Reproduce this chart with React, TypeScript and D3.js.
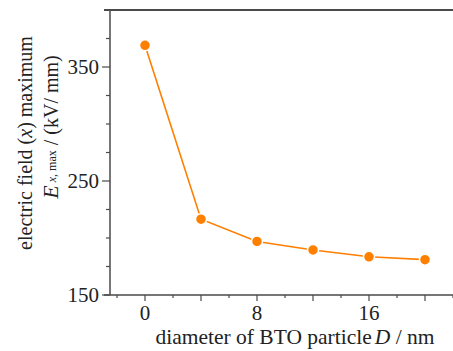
import React, { useEffect, useRef } from "react";
import * as d3 from "d3";

// particle diameter D (nm) and max electric field (kV/mm)
const diameters = [0, 4, 8, 12, 16, 20];
const fieldMax = [369, 216.5, 197, 189.5, 183.5, 181];
const xTickLabels = [0, 8, 16];
const yTickLabels = [150, 250, 350];

const App = () => {
  const svgRef = useRef<SVGSVGElement | null>(null);

  useEffect(() => {
    if (!svgRef.current) return;

    const width = 453;
    const height = 351;
    const left = 110;
    const top = 10;
    const bottom = 295;
    const axisColor = "#4a4a4a";
    const orange = "#ff7f00";
    const font = "'Liberation Serif', 'Times New Roman', serif";

    const svg = d3
      .select(svgRef.current)
      .attr("width", width)
      .attr("height", height)
      .style("background", "#fff");
    svg.selectAll("*").remove();

    const x = d3.scaleLinear().domain([-2.5, 22.5]).range([left, left + 350]);
    const y = d3.scaleLinear().domain([150, 400]).range([bottom, top]);

    // frame: left, bottom and top lines
    svg
      .append("line")
      .attr("x1", left)
      .attr("x2", left)
      .attr("y1", top)
      .attr("y2", bottom)
      .attr("stroke", axisColor)
      .attr("stroke-width", 1.5);
    svg
      .append("line")
      .attr("x1", left - 6)
      .attr("x2", width)
      .attr("y1", bottom)
      .attr("y2", bottom)
      .attr("stroke", axisColor)
      .attr("stroke-width", 1.5);
    svg
      .append("line")
      .attr("x1", left - 6)
      .attr("x2", width)
      .attr("y1", top)
      .attr("y2", top)
      .attr("stroke", axisColor)
      .attr("stroke-width", 2);

    // y ticks
    const yMinor = d3.range(175, 400, 25).filter((v) => !yTickLabels.includes(v));
    svg
      .selectAll(".ymin")
      .data(yMinor)
      .enter()
      .append("line")
      .attr("x1", left - 4)
      .attr("x2", left)
      .attr("y1", (d) => y(d))
      .attr("y2", (d) => y(d))
      .attr("stroke", axisColor)
      .attr("stroke-width", 1.2);
    svg
      .selectAll(".ymaj")
      .data(yTickLabels)
      .enter()
      .append("line")
      .attr("x1", left - 8)
      .attr("x2", left)
      .attr("y1", (d) => y(d))
      .attr("y2", (d) => y(d))
      .attr("stroke", axisColor)
      .attr("stroke-width", 1.2);
    svg
      .selectAll(".ylab")
      .data(yTickLabels)
      .enter()
      .append("text")
      .attr("x", left - 11)
      .attr("y", (d) => y(d) + 7)
      .attr("text-anchor", "end")
      .style("font-family", font)
      .style("font-size", "21px")
      .attr("fill", "#222")
      .text((d) => d);

    // x ticks
    const xMinor = d3.range(-2, 23, 4);
    const xMajor = d3.range(0, 23, 4);
    svg
      .selectAll(".xmin")
      .data(xMinor)
      .enter()
      .append("line")
      .attr("x1", (d) => x(d))
      .attr("x2", (d) => x(d))
      .attr("y1", bottom)
      .attr("y2", bottom + 3)
      .attr("stroke", axisColor)
      .attr("stroke-width", 1.2);
    svg
      .selectAll(".xmaj")
      .data(xMajor)
      .enter()
      .append("line")
      .attr("x1", (d) => x(d))
      .attr("x2", (d) => x(d))
      .attr("y1", bottom)
      .attr("y2", bottom + 6)
      .attr("stroke", axisColor)
      .attr("stroke-width", 1.2);
    svg
      .selectAll(".xlab")
      .data(xTickLabels)
      .enter()
      .append("text")
      .attr("x", (d) => x(d))
      .attr("y", 320)
      .attr("text-anchor", "middle")
      .style("font-family", font)
      .style("font-size", "21px")
      .attr("fill", "#222")
      .text((d) => d);

    // data line and markers
    const data = diameters.map((d, i) => ({ d, v: fieldMax[i] }));
    const line = d3
      .line<{ d: number; v: number }>()
      .x((p) => x(p.d))
      .y((p) => y(p.v));
    svg
      .append("path")
      .datum(data)
      .attr("fill", "none")
      .attr("stroke", orange)
      .attr("stroke-width", 1.6)
      .attr("d", line);
    svg
      .selectAll(".pt")
      .data(data)
      .enter()
      .append("circle")
      .attr("cx", (p) => x(p.d))
      .attr("cy", (p) => y(p.v))
      .attr("r", 5.5)
      .attr("fill", orange)
      .attr("stroke", "#fff")
      .attr("stroke-width", 1.5);

    // x axis title
    const xt = svg
      .append("text")
      .attr("x", 295)
      .attr("y", 344)
      .attr("text-anchor", "middle")
      .style("font-family", font)
      .style("font-size", "21.5px")
      .attr("fill", "#222");
    xt.append("tspan").text("diameter of BTO particle");
    xt.append("tspan").attr("dx", 3).style("font-style", "italic").text("D");
    xt.append("tspan").text(" / nm");

    // y axis title, two lines
    const yt1 = svg
      .append("text")
      .attr("transform", "translate(32,143) rotate(-90)")
      .attr("text-anchor", "middle")
      .style("font-family", font)
      .style("font-size", "20px")
      .attr("fill", "#222");
    yt1.append("tspan").text("electric field (");
    yt1.append("tspan").style("font-style", "italic").text("x");
    yt1.append("tspan").text(") maximum");

    const yt2 = svg
      .append("text")
      .attr("transform", "translate(58,127) rotate(-90)")
      .attr("text-anchor", "middle")
      .style("font-family", font)
      .style("font-size", "20px")
      .attr("fill", "#222");
    yt2.append("tspan").style("font-style", "italic").style("font-size", "22px").text("E");
    yt2
      .append("tspan")
      .style("font-size", "12px")
      .attr("dx", 3)
      .attr("dy", -2)
      .html("<tspan font-style='italic'>x</tspan>, max");
    yt2.append("tspan").attr("dy", 2).attr("dx", 5).text("/ (kV/ mm)");
  }, []);

  return (
    <svg
      ref={svgRef}
      style={{ position: "absolute", left: 0, top: 0, display: "block" }}
    ></svg>
  );
};

export default App;
